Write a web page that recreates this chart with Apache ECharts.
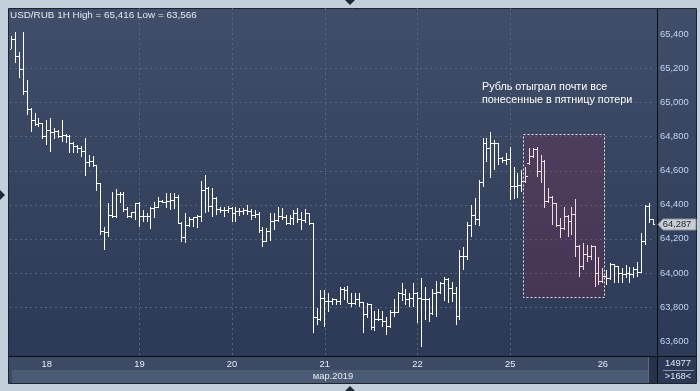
<!DOCTYPE html>
<html><head><meta charset="utf-8">
<script src="https://cdn.jsdelivr.net/npm/echarts@6/dist/echarts.min.js"></script>
<style>html,body{margin:0;padding:0;background:#c4cfdc;overflow:hidden}#c{width:700px;height:391px}</style>
</head><body><div id="c"></div>
<script>
const titleText = 'USD/RUB 1H High = 65,416 Low = 63,566';
const noteLines = ['Рубль отыграл почти все', 'понесенные в пятницу потери'];
const monthLabel = 'мар.2019';
const dayLabels = ['18', '19', '20', '21', '22', '25', '26'];
const dayStartBars = [9, 33, 57, 81, 105, 129, 153];
const priceTicks = [63600, 63800, 64000, 64200, 64400, 64600, 64800, 65000, 65200, 65400];
const barCountText = '14977';
const visibleText = '>168<';

const open = [65313,65372,65274,65192,65068,64961,64898,64869,64875,64800,64839,64823,64829,64800,64810,64804,64761,64741,64732,64716,
64647,64653,64628,64526,64246,64240,64340,64330,64463,64458,64370,64330,64352,64405,64330,64334,64330,64380,64385,64418,
64412,64418,64424,64444,64293,64209,64276,64311,64327,64330,64487,64497,64389,64438,64370,64368,64365,64380,64350,64360,
64358,64365,64360,64340,64342,64248,64187,64242,64301,64305,64334,64327,64291,64321,64350,64311,64307,64350,64291,63741,
63724,63851,63831,63835,63841,63831,63900,63895,63823,63822,63841,63825,63753,63812,63681,63724,63729,63714,63684,63766,
63770,63880,63876,63841,63851,63880,63851,63841,63845,63763,63880,63884,63939,63963,63910,63880,63743,64095,64098,64281,
64340,64311,64530,64761,64732,64761,64758,64673,64663,64667,64506,64510,64516,64536,64645,64682,64722,64594,64653,64418,
64444,64405,64276,64262,64334,64301,64346,64158,64037,64111,64095,64154,63998,63948,63978,63968,64047,64037,63998,63988,
63998,63988,64021,64001,64183,64389,64311];
const high = [65391,65416,65299,65415,65133,64967,64939,64910,64880,64898,64910,64851,64839,64898,64815,64808,64768,64751,64745,64790,
64692,64687,64635,64530,64271,64412,64477,64493,64477,64477,64389,64360,64412,64418,64370,64350,64389,64418,64444,64428,
64468,64471,64468,64458,64298,64350,64330,64330,64340,64542,64575,64506,64497,64445,64389,64389,64393,64385,64385,64380,
64380,64399,64374,64370,64360,64271,64262,64350,64350,64389,64380,64340,64340,64370,64380,64360,64374,64354,64295,63792,
63900,63900,63880,63851,63847,63919,63919,63923,63880,63880,63880,63830,63822,63818,63778,63786,63778,63739,63782,63845,
63890,63943,63904,63884,63939,63890,63968,63919,63851,63904,63954,63948,63978,63968,63948,63919,64135,64154,64301,64399,
64438,64546,64790,64790,64829,64781,64765,64680,64702,64741,64624,64585,64604,64624,64732,64732,64741,64692,64663,64497,
64450,64409,64321,64389,64340,64389,64432,64164,64174,64164,64164,64160,64095,64027,64017,64056,64052,64042,64027,64047,
64037,64037,64066,64233,64399,64409,64315];
const low = [65313,65231,65143,65045,64927,64829,64863,64857,64785,64751,64712,64786,64792,64771,64765,64702,64702,64706,64682,64569,
64624,64624,64483,64223,64135,64213,64321,64323,64412,64360,64321,64321,64311,64268,64301,64301,64256,64321,64380,64409,
64380,64370,64374,64287,64183,64174,64271,64271,64262,64301,64350,64360,64330,64340,64350,64327,64350,64301,64301,64334,
64340,64340,64311,64321,64233,64150,64183,64189,64252,64301,64311,64281,64281,64281,64291,64252,64291,64281,63645,63694,
63715,63684,63772,63812,63812,63812,63841,63822,63802,63812,63802,63649,63734,63665,63661,63718,63684,63636,63678,63739,
63763,63837,63812,63802,63802,63704,63566,63724,63714,63753,63739,63878,63837,63825,63831,63694,63724,64017,64076,64213,
64281,64276,64506,64653,64556,64604,64634,64644,64634,64428,64432,64438,64477,64526,64634,64673,64565,64526,64380,64409,
64281,64271,64203,64255,64213,64223,64095,63978,64017,64066,64076,63919,63929,63940,63929,63958,63939,63939,63939,63968,
63939,63968,63978,63998,64164,64291,64281];
const close = [65372,65274,65192,65068,64961,64898,64869,64875,64800,64839,64823,64829,64800,64810,64804,64761,64741,64732,64716,64647,
64653,64628,64526,64246,64240,64340,64330,64463,64458,64370,64330,64352,64405,64330,64334,64330,64380,64385,64418,64412,
64418,64424,64444,64293,64209,64276,64311,64327,64330,64487,64497,64389,64438,64370,64368,64365,64380,64350,64360,64358,
64365,64360,64340,64342,64248,64187,64242,64301,64305,64334,64327,64291,64321,64350,64311,64307,64350,64291,63741,63724,
63851,63831,63835,63841,63831,63900,63895,63823,63822,63841,63825,63753,63812,63681,63724,63729,63714,63684,63766,63770,
63880,63876,63841,63851,63880,63851,63841,63845,63763,63880,63884,63939,63963,63910,63880,63743,64095,64098,64281,64340,
64311,64530,64761,64732,64761,64758,64673,64663,64667,64506,64510,64516,64536,64565,64682,64722,64594,64653,64418,64444,
64405,64276,64262,64334,64301,64346,64158,64037,64111,64095,64154,63998,63948,63978,63968,64047,64037,63998,63988,63998,
63988,64021,64001,64183,64389,64311,64287];

const boxBars = [132.2, 153.1];
const boxPrices = [64818, 63863];

const FONT = '"Liberation Sans", Arial, sans-serif';
const bars = close.map((c, i) => [i, open[i], high[i], low[i], c]);
const fmtPrice = v => String(Math.round(v)).replace(/\B(?=(\d{3})+(?!\d))/g, ',');

const chart = echarts.init(document.getElementById('c'), null, {renderer: 'canvas'});

const baseGraphics = [
  {id: 'bg', type: 'rect', z: -30, silent: true, shape: {x: 0, y: 0, width: 700, height: 391}, style: {fill: '#c4cfdc'}},
  {id: 'panel', type: 'rect', z: -20, silent: true, shape: {x: 8.5, y: 8.5, width: 688, height: 375},
    style: {fill: new echarts.graphic.LinearGradient(0, 0, 0, 1, [{offset: 0, color: '#414e69'}, {offset: 1, color: '#2b3855'}]), stroke: '#1e242e', lineWidth: 1}},
  {id: 'bandTop', type: 'rect', z: -15, silent: true, shape: {x: 9, y: 357, width: 648, height: 26}, style: {fill: '#3c4a64'}},
  {id: 'bandLow', type: 'rect', z: -14, silent: true, shape: {x: 12, y: 370, width: 636, height: 13}, style: {fill: '#4b5a75'}},
  {id: 'scroll', type: 'rect', z: -13, silent: true, shape: {x: 648, y: 357, width: 9, height: 26}, style: {fill: '#26324a'}},
  {id: 'scrollLine', type: 'line', z: -12, silent: true, shape: {x1: 648.5, y1: 357, x2: 648.5, y2: 383}, style: {stroke: '#5d6a82', lineWidth: 1}},
  {id: 'hLine', type: 'line', z: 10, silent: true, shape: {x1: 9, y1: 356.5, x2: 697, y2: 356.5}, style: {stroke: '#0a0e15', lineWidth: 1}},
  {id: 'vLine', type: 'line', z: 10, silent: true, shape: {x1: 657.5, y1: 9, x2: 657.5, y2: 383}, style: {stroke: '#0a0e15', lineWidth: 1}},
  {id: 'sep', type: 'line', z: 10, silent: true, shape: {x1: 663, y1: 370.5, x2: 694, y2: 370.5}, style: {stroke: '#8996aa', lineWidth: 1}},
  {id: 'cnt', type: 'text', z: 10, silent: true, style: {x: 678, y: 363.5, text: barCountText, fill: '#dfe6f0', font: '9.4px ' + FONT, align: 'center', verticalAlign: 'middle'}},
  {id: 'vis', type: 'text', z: 10, silent: true, style: {x: 678, y: 376.5, text: visibleText, fill: '#dfe6f0', font: '9.4px ' + FONT, align: 'center', verticalAlign: 'middle'}},
  {id: 'month', type: 'text', z: 10, silent: true, style: {x: 333, y: 376.5, text: monthLabel, fill: '#e6ecf4', font: '9.4px ' + FONT, align: 'center', verticalAlign: 'middle'}},
  {id: 'title', type: 'text', z: 10, silent: true, style: {x: 10, y: 15, text: titleText, fill: '#e2e8f0', font: '9.9px ' + FONT, align: 'left', verticalAlign: 'middle'}},
  {id: 'note1', type: 'text', z: 10, silent: true, style: {x: 482, y: 87.5, text: noteLines[0], fill: '#ffffff', font: '10.8px ' + FONT, align: 'left', verticalAlign: 'middle'}},
  {id: 'note2', type: 'text', z: 10, silent: true, style: {x: 482, y: 100.5, text: noteLines[1], fill: '#ffffff', font: '10.8px ' + FONT, align: 'left', verticalAlign: 'middle'}},
  {id: 'arrTop', type: 'polygon', z: 10, silent: true, shape: {points: [[345, 0], [355, 0], [350, 5]]}, style: {fill: '#1d2838'}},
  {id: 'arrBot', type: 'polygon', z: 10, silent: true, shape: {points: [[345, 391], [355, 391], [350, 386]]}, style: {fill: '#1d2838'}},
  {id: 'arrLeft', type: 'polygon', z: 10, silent: true, shape: {points: [[0, 190], [0, 200], [5, 195]]}, style: {fill: '#1d2838'}}
];

const option = {
  animation: false,
  backgroundColor: 'transparent',
  graphic: {elements: baseGraphics},
  grid: {left: 10, right: 45, top: 8, bottom: 35, containLabel: false},
  xAxis: {
    type: 'value', min: -0.5, max: 166.5,
    axisLine: {show: false},
    axisTick: {show: false, customValues: dayStartBars},
    axisLabel: {
      customValues: dayStartBars, margin: 8, verticalAlign: 'middle',
      color: '#e6ecf4', fontSize: 9.4, fontFamily: FONT,
      formatter: v => { const k = dayStartBars.indexOf(Math.round(v)); return k >= 0 ? dayLabels[k] : ''; }
    },
    splitLine: {show: true, customValues: dayStartBars, showMinLine: false, showMaxLine: false,
      lineStyle: {color: '#56657f', type: [2, 3], width: 1}}
  },
  yAxis: {
    type: 'value', position: 'right', min: 63512, max: 65556,
    axisLine: {show: false},
    axisTick: {show: false, customValues: priceTicks},
    axisLabel: {customValues: priceTicks, margin: 5, color: '#c2d6f0', fontSize: 9.4, fontFamily: FONT, formatter: fmtPrice},
    splitLine: {show: true, customValues: priceTicks, showMinLine: false, showMaxLine: false,
      lineStyle: {color: '#56657f', type: [2, 3], width: 1}}
  },
  series: [
    {
      type: 'custom', name: 'USDRUB', z: 2, silent: true, clip: true,
      data: bars,
      encode: {x: 0, y: [1, 2, 3, 4]},
      renderItem: (params, api) => {
        const x = api.value(0);
        const po = api.coord([x, api.value(1)]);
        const ph = api.coord([x, api.value(2)]);
        const pl = api.coord([x, api.value(3)]);
        const pc = api.coord([x, api.value(4)]);
        const cx = Math.round(po[0] - 0.5);
        const yh = Math.round(ph[1]), yl = Math.round(pl[1]);
        const yo = Math.round(po[1] - 0.5), yc = Math.round(pc[1] - 0.5);
        const st = {fill: '#ffffff'};
        return {type: 'group', children: [
          {type: 'rect', shape: {x: cx, y: yh, width: 1, height: Math.max(1, yl - yh)}, style: st},
          {type: 'rect', shape: {x: cx - 2, y: yo, width: 2, height: 1}, style: st},
          {type: 'rect', shape: {x: cx + 1, y: yc, width: 2, height: 1}, style: st}
        ]};
      }
    },
    {
      type: 'custom', name: 'box', z: 5, silent: true,
      data: [[boxBars[0], boxBars[1], boxPrices[0], boxPrices[1]]],
      encode: {x: [0, 1], y: [2, 3]},
      renderItem: (params, api) => {
        const a = api.coord([api.value(0), api.value(2)]);
        const b = api.coord([api.value(1), api.value(3)]);
        const x0 = Math.round(a[0]) + 0.5, y0 = Math.round(a[1]) + 0.5;
        return {type: 'rect', shape: {x: x0, y: y0, width: Math.round(b[0] - a[0]), height: Math.round(b[1] - a[1])},
          style: {fill: 'rgba(180,20,60,0.16)', stroke: '#e4e2e8', lineWidth: 1, lineDash: [2, 2]}};
      }
    }
  ]
};
chart.setOption(option);

// current price tag at last close
const lastClose = close[close.length - 1];
const ty = Math.round(chart.convertToPixel({yAxisIndex: 0}, lastClose)) + 0.5;
chart.setOption({graphic: {elements: baseGraphics.concat([
  {id: 'tag', type: 'polygon', z: 12, silent: true,
    shape: {points: [[658, ty], [663, ty - 5.5], [696, ty - 5.5], [696, ty + 5.5], [663, ty + 5.5]]},
    style: {fill: '#c9cdd4', stroke: '#8b919b', lineWidth: 1}},
  {id: 'tagText', type: 'text', z: 13, silent: true,
    style: {x: 677, y: ty, text: fmtPrice(lastClose), fill: '#1b2333', font: '9.4px ' + FONT, align: 'center', verticalAlign: 'middle'}}
])}});
</script>
</body></html>
